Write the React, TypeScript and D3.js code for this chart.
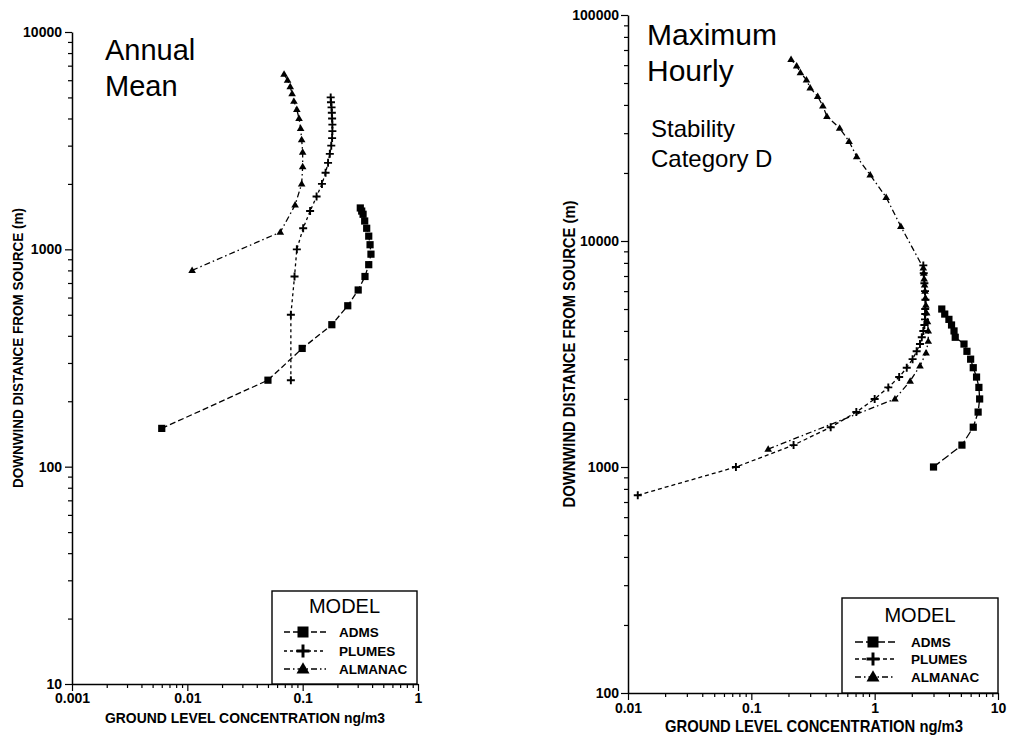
// Concentration vs downwind distance, two log-log panels (annual mean / max hourly)
import { useEffect, useRef } from "react";
import * as d3 from "d3";

const W = 1009;
const H = 737;
const FONT = "Liberation Sans, Arial, Helvetica, sans-serif";

// ---- Annual mean panel ----
const annualXTicks = [0.001, 0.01, 0.1, 1];
const annualYTicks = [10, 100, 1000, 10000];

const annualAdmsDist = [150, 250, 350, 450, 550, 650, 750, 850, 950, 1050, 1150, 1250, 1350, 1450, 1500, 1550];
const annualAdmsConc = [0.006, 0.05, 0.099, 0.179, 0.246, 0.303, 0.347, 0.374, 0.391, 0.384, 0.374, 0.359, 0.345, 0.334, 0.325, 0.316];

const annualPlumesDist = [250, 500, 750, 1000, 1250, 1500, 1750, 2000, 2250, 2500, 2750, 3000, 3250, 3500, 3750, 4000, 4250, 4500, 4750, 5000];
const annualPlumesConc = [0.079, 0.079, 0.085, 0.089, 0.101, 0.116, 0.132, 0.147, 0.158, 0.166, 0.172, 0.177, 0.18, 0.181, 0.181, 0.18, 0.179, 0.178, 0.176, 0.175];

const annualAlmanacDist = [800, 1200, 1600, 2000, 2400, 2800, 3200, 3600, 4000, 4400, 4800, 5200, 5600, 6000, 6400];
const annualAlmanacConc = [0.011, 0.064, 0.086, 0.098, 0.1, 0.1, 0.098, 0.096, 0.093, 0.089, 0.084, 0.081, 0.078, 0.074, 0.069];

// ---- Maximum hourly panel ----
const hourlyXTicks = [0.01, 0.1, 1, 10];
const hourlyYTicks = [100, 1000, 10000, 100000];

const hourlyAdmsDist = [1000, 1250, 1500, 1750, 2000, 2250, 2500, 2750, 3000, 3250, 3500, 3750, 4000, 4250, 4500, 4750, 5000];
const hourlyAdmsConc = [3.0, 5.1, 6.3, 6.9, 7.1, 7.0, 6.7, 6.3, 6.0, 5.6, 5.3, 4.5, 4.4, 4.2, 4.0, 3.7, 3.5];

const hourlyPlumesDist = [750, 1000, 1250, 1500, 1750, 2000, 2250, 2500, 2750, 3000, 3250, 3500, 3750, 4000, 4250, 4500, 4750, 5000, 5500, 6000, 6500, 7200, 7800];
const hourlyPlumesConc = [0.012, 0.075, 0.22, 0.44, 0.71, 1.0, 1.29, 1.58, 1.82, 2.03, 2.19, 2.33, 2.41, 2.48, 2.53, 2.56, 2.57, 2.57, 2.58, 2.56, 2.53, 2.5, 2.48];

const hourlyAlmanacDist = [1200, 2000, 2400, 2800, 3200, 3600, 4000, 4400, 4800, 5200, 5600, 6000, 6400, 6800, 7200, 7600, 11600, 15600, 19600, 23600, 27600, 31600, 35600, 39600, 43600, 47600, 51600, 55600, 59600, 63600];
const hourlyAlmanacConc = [0.137, 1.46, 1.94, 2.33, 2.61, 2.72, 2.72, 2.68, 2.64, 2.6, 2.58, 2.56, 2.54, 2.52, 2.5, 2.48, 1.63, 1.24, 0.92, 0.715, 0.62, 0.52, 0.41, 0.38, 0.345, 0.3, 0.28, 0.25, 0.233, 0.21];

const MODELS = ["ADMS", "PLUMES", "ALMANAC"];

const PANELS = [
  {
    xDomain: [0.001, 1], yDomain: [10, 10000],
    xRange: [72, 418], yRange: [684, 32],
    xTicks: annualXTicks, yTicks: annualYTicks,
    series: [
      { dist: annualAdmsDist, conc: annualAdmsConc, mark: "square", dash: "6 3" },
      { dist: annualPlumesDist, conc: annualPlumesConc, mark: "plus", dash: "3 3" },
      { dist: annualAlmanacDist, conc: annualAlmanacConc, mark: "triangle", dash: "6 3 1.5 3" },
    ],
    tickFont: 14, xPad: 2, yPad: 3,
    xLabel: { x: 245, y: 723, size: 15.5, len: 280 },
    yLabel: { x: 23, y: 348, size: 15, len: 280 },
    titles: [
      { text: "Annual", x: 105, y: 60, size: 29 },
      { text: "Mean", x: 105, y: 96, size: 29 },
    ],
    legend: { x0: 272, x1: 417, y0: 591, y1: 684, titleY: 613, rows: [632, 651, 669], sym: 303, l0: 284, l1: 326, tx: 339 },
  },
  {
    xDomain: [0.01, 10], yDomain: [100, 100000],
    xRange: [628, 998], yRange: [693, 15],
    xTicks: hourlyXTicks, yTicks: hourlyYTicks,
    series: [
      { dist: hourlyAdmsDist, conc: hourlyAdmsConc, mark: "square", dash: "8 3" },
      { dist: hourlyPlumesDist, conc: hourlyPlumesConc, mark: "plus", dash: "4 3" },
      { dist: hourlyAlmanacDist, conc: hourlyAlmanacConc, mark: "triangle", dash: "6 3 1.5 3" },
    ],
    tickFont: 14, xPad: 3, yPad: 2,
    xLabel: { x: 814, y: 732, size: 16.5, len: 298 },
    yLabel: { x: 575, y: 354, size: 16, len: 307 },
    titles: [
      { text: "Maximum", x: 647, y: 45, size: 30 },
      { text: "Hourly", x: 647, y: 81, size: 30 },
      { text: "Stability", x: 651, y: 137, size: 24 },
      { text: "Category D", x: 651, y: 167, size: 24 },
    ],
    legend: { x0: 842, x1: 998, y0: 598, y1: 693, titleY: 622, rows: [642, 659, 677], sym: 873, l0: 855, l1: 895, tx: 911 },
  },
];

function isDecade(v) {
  const l = Math.log10(v);
  return Math.abs(l - Math.round(l)) < 1e-6;
}

function drawMark(sel, mark, s) {
  if (mark === "plus") {
    sel.append("path")
      .attr("d", `M${-s},0H${s}M0,${-s}V${s}`)
      .attr("stroke", "#000")
      .attr("stroke-width", Math.max(1.9, s / 2.2))
      .attr("fill", "none");
  } else if (mark === "square") {
    sel.append("rect")
      .attr("x", -s).attr("y", -s)
      .attr("width", 2 * s).attr("height", 2 * s)
      .attr("fill", "#000");
  } else {
    const h = s * 1.7;
    sel.append("path")
      .attr("d", `M0,${-h * 0.6}L${s},${h * 0.4}L${-s},${h * 0.4}Z`)
      .attr("fill", "#000");
  }
}

function drawPanel(svg, p) {
  const x = d3.scaleLog().domain(p.xDomain).range(p.xRange);
  const y = d3.scaleLog().domain(p.yDomain).range(p.yRange);
  const g = svg.append("g");

  const styleAxis = (ax) => {
    ax.attr("font-family", FONT).attr("font-size", p.tickFont).attr("font-weight", "bold");
    ax.selectAll("line").attr("stroke", "#000").attr("stroke-width", 1.2);
    ax.selectAll("path").attr("stroke", "#000").attr("stroke-width", 1.5);
    ax.selectAll("text").attr("fill", "#000");
  };

  const minorX = x.ticks().filter((v) => !isDecade(v));
  const minorY = y.ticks().filter((v) => !isDecade(v));

  // minor ticks
  const mx = g.append("g")
    .attr("transform", `translate(0,${p.yRange[0]})`)
    .call(d3.axisBottom(x).tickValues(minorX).tickSize(4).tickSizeOuter(0).tickFormat(() => ""));
  mx.select(".domain").remove();
  styleAxis(mx);
  const my = g.append("g")
    .attr("transform", `translate(${p.xRange[0]},0)`)
    .call(d3.axisLeft(y).tickValues(minorY).tickSize(4).tickSizeOuter(0).tickFormat(() => ""));
  my.select(".domain").remove();
  styleAxis(my);

  // major ticks + labels
  const ax = g.append("g")
    .attr("transform", `translate(0,${p.yRange[0]})`)
    .call(d3.axisBottom(x).tickValues(p.xTicks).tickSize(7).tickSizeOuter(0).tickPadding(p.xPad).tickFormat((v) => String(v)));
  styleAxis(ax);
  const ay = g.append("g")
    .attr("transform", `translate(${p.xRange[0]},0)`)
    .call(d3.axisLeft(y).tickValues(p.yTicks).tickSize(7).tickSizeOuter(0).tickPadding(p.yPad).tickFormat((v) => String(v)));
  styleAxis(ay);

  // series
  p.series.forEach((s) => {
    const pts = s.dist.map((d, i) => [s.conc[i], d]);
    const line = d3.line().x((d) => x(d[0])).y((d) => y(d[1]));
    g.append("path")
      .datum(pts)
      .attr("fill", "none")
      .attr("stroke", "#000")
      .attr("stroke-width", 1.3)
      .attr("stroke-dasharray", s.dash)
      .attr("d", line);
    pts.forEach((d) => {
      const m = g.append("g").attr("transform", `translate(${x(d[0])},${y(d[1])})`);
      drawMark(m, s.mark, s.mark === "square" ? 3.6 : s.mark === "plus" ? 4 : 3.8);
    });
  });

  // axis titles (condensed to the reference's narrow type)
  g.append("text")
    .attr("x", p.xLabel.x - p.xLabel.len / 2).attr("y", p.xLabel.y)
    .attr("textLength", p.xLabel.len).attr("lengthAdjust", "spacingAndGlyphs")
    .attr("font-family", FONT).attr("font-weight", "bold").attr("font-size", p.xLabel.size)
    .text("GROUND LEVEL CONCENTRATION ng/m3");
  g.append("text")
    .attr("transform", `translate(${p.yLabel.x},${p.yLabel.y}) rotate(-90)`)
    .attr("x", -p.yLabel.len / 2)
    .attr("textLength", p.yLabel.len).attr("lengthAdjust", "spacingAndGlyphs")
    .attr("font-family", FONT).attr("font-weight", "bold").attr("font-size", p.yLabel.size)
    .text("DOWNWIND DISTANCE FROM SOURCE (m)");

  p.titles.forEach((t) => {
    g.append("text")
      .attr("x", t.x).attr("y", t.y)
      .attr("font-family", FONT).attr("font-size", t.size)
      .text(t.text);
  });

  // legend
  const L = p.legend;
  g.append("rect")
    .attr("x", L.x0).attr("y", L.y0)
    .attr("width", L.x1 - L.x0).attr("height", L.y1 - L.y0)
    .attr("fill", "#fff").attr("stroke", "#000").attr("stroke-width", 1.4);
  g.append("text")
    .attr("x", (L.x0 + L.x1) / 2).attr("y", L.titleY)
    .attr("text-anchor", "middle")
    .attr("font-family", FONT).attr("font-size", 20)
    .text("MODEL");
  p.series.forEach((s, i) => {
    const ry = L.rows[i];
    g.append("line")
      .attr("x1", L.l0).attr("x2", L.l1).attr("y1", ry).attr("y2", ry)
      .attr("stroke", "#000").attr("stroke-width", 1.3)
      .attr("stroke-dasharray", s.dash);
    const m = g.append("g").attr("transform", `translate(${L.sym},${ry})`);
    drawMark(m, s.mark, s.mark === "square" ? 5.5 : 6.5);
    g.append("text")
      .attr("x", L.tx).attr("y", ry + 5)
      .attr("font-family", FONT).attr("font-weight", "bold").attr("font-size", 13.5)
      .text(MODELS[i]);
  });
}

export default function App() {
  const svgRef = useRef(null);

  useEffect(() => {
    if (!svgRef.current) return;
    const svg = d3.select(svgRef.current);
    svg.selectAll("*").remove();
    svg.append("rect").attr("width", W).attr("height", H).attr("fill", "#fff");
    PANELS.forEach((p) => drawPanel(svg, p));
  }, []);

  return (
    <svg
      ref={svgRef}
      width={W}
      height={H}
      viewBox={`0 0 ${W} ${H}`}
      style={{ position: "absolute", left: 0, top: 0, display: "block" }}
    />
  );
}
